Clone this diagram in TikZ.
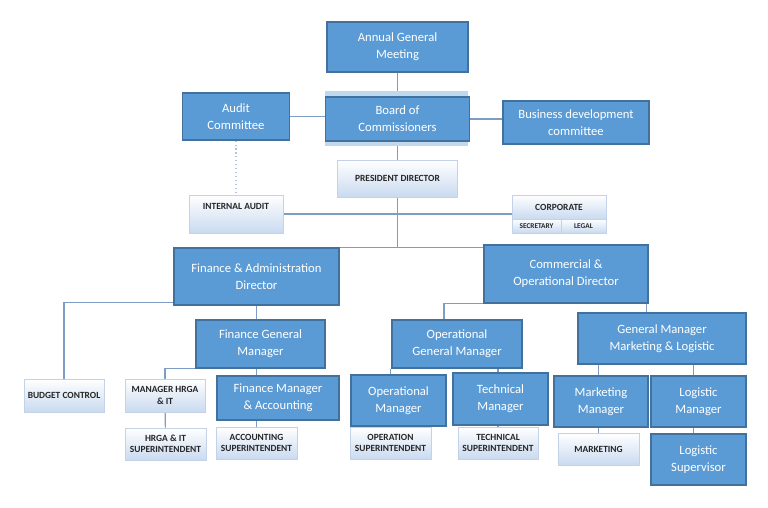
\documentclass[tikz,border=0pt]{standalone}
\usepackage{fontspec}
\setmainfont{Carlito}
\usetikzlibrary{calc}
\usetikzlibrary{backgrounds}
\usetikzlibrary{shadows}
\definecolor{boxblue}{HTML}{5B9BD5}
\definecolor{boxedge}{HTML}{41719C}
\definecolor{linkblue}{HTML}{7D9DC6}
\definecolor{paleblue}{HTML}{C9DAF0}
\definecolor{paleedge}{HTML}{C3D2E6}
\definecolor{boxback}{HTML}{C0D8EE}

\begin{document}
\begin{tikzpicture}
  [
    x=0.025cm, y=-0.025cm,
    sz/.style 2 args={minimum width=#1*0.025cm, minimum height=#2*0.025cm},
    unit/.style={fill=boxblue, draw=boxedge, line width=0.8pt, text=white,
      align=center, inner sep=1pt, font=\fontsize{9}{12}\selectfont,
      drop shadow={opacity=0.12, shadow xshift=0.5pt, shadow yshift=-1pt}},
    post/.style={top color=white, bottom color=paleblue, draw=paleedge,
      line width=0.4pt, align=center, inner sep=1pt, text=black!85,
      font=\fontsize{6.7}{8}\selectfont\bfseries,
      drop shadow={opacity=0.2, shadow xshift=0.6pt, shadow yshift=-0.8pt}},
    tiny/.style={font=\fontsize{5.2}{6}\selectfont\bfseries},
    ln/.style={draw=linkblue, line width=0.8pt}
  ]
  \useasboundingbox (0,0) rectangle (768,507);

  \node (agm)   at (397.5,47)    [unit, sz={141}{50}] {Annual General\\Meeting};
  \node (boc)   at (397.5,119)   [unit, sz={144}{44}] {Board of\\Commissioners};
  \node (audit) at (236,116.5)   [unit, sz={107}{47}] {Audit\\Committee};
  \node (bdc)   at (576,122.5)   [unit, sz={146}{43}] {Business development\\committee};

  \node (pres)  at (397.5,178.5) [post, sz={120}{37}] {PRESIDENT DIRECTOR};
  \node (ia)    at (236,214)     [post, sz={94}{38}, text depth=11pt] {INTERNAL AUDIT};
  \node (corp)  at (559,207)     [post, sz={94}{24}] {CORPORATE};
  \node (sec)   at (536.5,226)   [post, tiny, sz={49}{14}] {SECRETARY};
  \node (legal) at (583.5,226)   [post, tiny, sz={45}{14}] {LEGAL};

  \node (fad)   at (256.5,276.5) [unit, sz={165}{57}] {Finance \& Administration\\Director};
  \node (cod)   at (566,274)     [unit, sz={164}{58}] {Commercial \&\\Operational Director};

  \node (fgm)   at (260.5,344)   [unit, sz={129}{48}] {Finance General\\Manager};
  \node (bc)    at (64,395.5)    [post, sz={80}{33}] {BUDGET CONTROL};
  \node (mhr)   at (165,395.5)   [post, sz={80}{33}] {MANAGER HRGA\\\& IT};
  \node (fma)   at (278,398)     [unit, sz={122}{44}] {Finance Manager\\\& Accounting};
  \node (hsup)  at (165.5,444)   [post, sz={81}{32}] {HRGA \& IT\\SUPERINTENDENT};
  \node (asup)  at (256.5,443)   [post, sz={81}{32}] {ACCOUNTING\\SUPERINTENDENT};

  \node (ogm)   at (457,344)     [unit, sz={130}{48}] {Operational\\General Manager};
  \node (gmml)  at (662,338.5)   [unit, sz={168}{51}] {General Manager\\Marketing \& Logistic};
  \node (opm)   at (398.5,400.5) [unit, sz={95}{51}] {Operational\\Manager};
  \node (tm)    at (500.5,399)   [unit, sz={95}{52}] {Technical\\Manager};
  \node (osup)  at (390.5,443)   [post, sz={81}{32}] {OPERATION\\SUPERINTENDENT};
  \node (tsup)  at (498,443)     [post, sz={80}{32}] {TECHNICAL\\SUPERINTENDENT};
  \node (mm)    at (601,401.5)   [unit, sz={94}{51}] {Marketing\\Manager};
  \node (lm)    at (698.5,401.5) [unit, sz={95}{51}] {Logistic\\Manager};
  \node (mkt)   at (598.5,449)   [post, sz={81}{32}] {MARKETING};
  \node (ls)    at (698.5,459.5) [unit, sz={95}{51}] {Logistic\\Supervisor};

  \coordinate (cl) at ($(ogm.north)+(-13,0)$);
  \coordinate (cr) at ($(cod.south east)+(-2,0)$);
  \coordinate (lj) at ($(ls.north)+(-5,0)$);

  \begin{scope}[on background layer]
    \draw [ln] (agm) -- (boc);
    \draw [ln] (audit.east) -- (audit.east -| boc.west);
    \draw [ln] (boc.east) -- (boc.east -| bdc.west);
    \draw [ln] (boc) -- (pres);
    \draw [ln, dotted, draw=linkblue!60] (audit) -- (ia);
    \draw [ln] (ia.east) -- (ia.east -| corp.west);
    \draw [ln] (pres) -- (pres |- fad.north);
    \draw [ln] (fad.north) -- (fad.north -| cod.west);

    \draw [ln] ($(fad.south west)+(0,-3)$) -| (bc);
    \draw [ln] (fad) -- (fad |- fgm.north);
    \draw [ln] (fgm.south west) -| (mhr);
    \draw [ln] (asup |- fgm.south) -- (asup |- fma.north);
    \draw [ln] (mhr) -- (hsup);
    \draw [ln] (fma.south -| asup) -- (asup);

    \draw [ln] (cod.south west) -| (cl);
    \draw [ln] (cr) -- (cr |- gmml.north);
    \draw [ln] (osup |- ogm.south) -- (tsup |- ogm.south);
    \draw [ln] (osup |- ogm.south) -- (osup |- opm.north);
    \draw [ln] (tsup |- ogm.south) -- (tsup |- tm.north);
    \draw [ln] (opm.south -| osup) -- (osup);
    \draw [ln] (tm.south -| tsup) -- (tsup);
    \draw [ln] (mkt |- mm.north) |- (lj |- gmml.south) -- (lj |- lm.north);
    \draw [ln] (mm.south -| mkt) -- (mkt);
    \draw [ln] (lm.south -| lj) -- (lj |- ls.north);

    \fill [boxback] ($(boc.north west)+(0,-5)$) rectangle ($(boc.south east)+(-2,4)$);
  \end{scope}
\end{tikzpicture}
\end{document}
